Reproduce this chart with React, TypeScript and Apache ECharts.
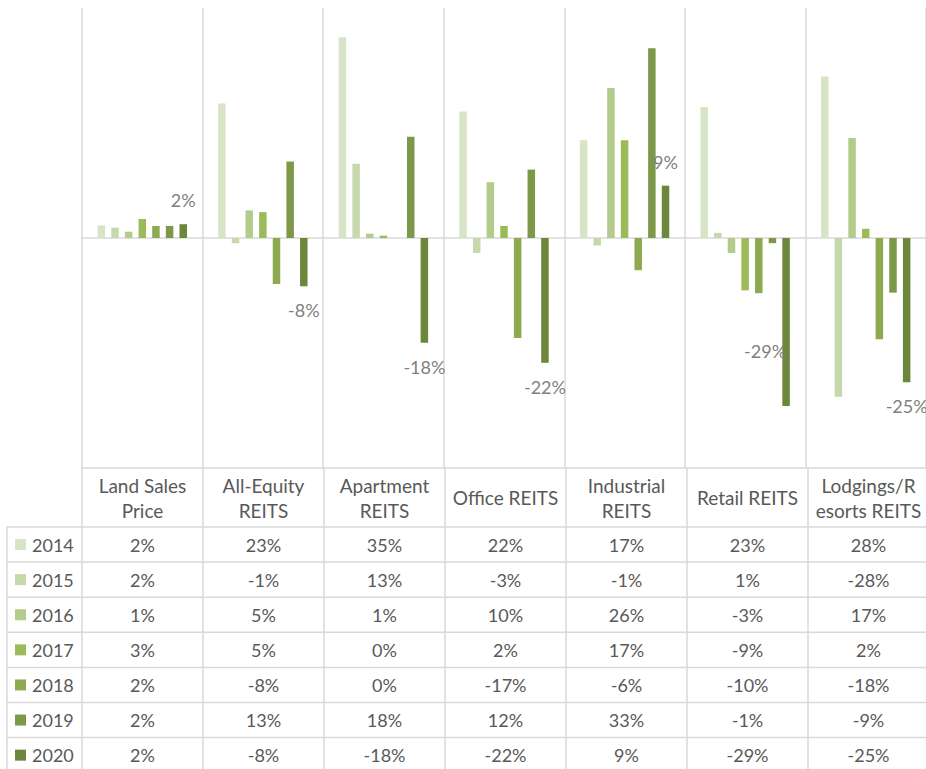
import React, { useEffect, useRef } from "react";
import * as echarts from "echarts";

const categories = [
  "Land Sales\nPrice",
  "All-Equity\nREITS",
  "Apartment\nREITS",
  "Office REITS",
  "Industrial\nREITS",
  "Retail REITS",
  "Lodgings/R\nesorts REITS",
];
const years = ["2014", "2015", "2016", "2017", "2018", "2019", "2020"];
const v2014 = [2.2, 23.4, 34.9, 22.0, 17.0, 22.8, 28.1];
const v2015 = [1.8, -0.9, 12.9, -2.6, -1.3, 0.9, -27.6];
const v2016 = [1.1, 4.8, 0.75, 9.7, 26.1, -2.6, 17.4];
const v2017 = [3.3, 4.5, 0.4, 2.1, 17.0, -9.1, 1.6];
const v2018 = [2.1, -8.0, 0, -17.4, -5.6, -9.6, -17.6];
const v2019 = [2.1, 13.3, 17.6, 11.9, 33.0, -0.9, -9.5];
const v2020 = [2.4, -8.4, -18.2, -21.7, 9.1, -29.2, -25.1];
const seriesValues = [v2014, v2015, v2016, v2017, v2018, v2019, v2020];
const colors = ["#D7E4C5", "#C6D9AC", "#B3CB8B", "#9BBB59", "#8DAA50", "#7E9849", "#6C863C"];

const FONT = "Lato, 'Open Sans', sans-serif";
const GRID_LEFT = 82;
const GRID_TOP = 8;
const GRID_H = 460;
const COL_W = 121;
const GRID_W = COL_W * categories.length;
const TABLE_LEFT = 7;
const HEADER_BOTTOM = 527;
const ROW_H = 35.1;
const LINE_COLOR = "#D9D9D9";
const TEXT_COLOR = "#595959";

const pct = (v: number) => `${Math.round(v)}%`;

export default function App() {
  const ref = useRef<HTMLDivElement>(null);
  useEffect(() => {
    if (!ref.current) return;
    const chart = echarts.init(ref.current, null, { renderer: "svg" });
    const right = GRID_LEFT + GRID_W;
    const bottom = 769;
    const elements: any[] = [];
    const line = (x1: number, y1: number, x2: number, y2: number) =>
      elements.push({
        type: "line",
        shape: { x1, y1, x2, y2 },
        style: { stroke: LINE_COLOR, lineWidth: 1.5 },
        silent: true,
      });
    line(GRID_LEFT, GRID_TOP + GRID_H, right, GRID_TOP + GRID_H);
    for (let k = 0; k <= years.length; k++) {
      const y = HEADER_BOTTOM + ROW_H * k;
      line(TABLE_LEFT, y, right, y);
    }
    line(TABLE_LEFT, HEADER_BOTTOM, TABLE_LEFT, bottom);
    for (let j = 0; j <= categories.length; j++) {
      const x = GRID_LEFT + COL_W * j;
      line(x, GRID_TOP + GRID_H, x, bottom);
    }
    categories.forEach((c, i) => {
      elements.push({
        type: "text",
        x: GRID_LEFT + COL_W * (i + 0.5),
        y: (GRID_TOP + GRID_H + HEADER_BOTTOM) / 2,
        style: {
          text: c,
          fill: TEXT_COLOR,
          fontSize: 19,
          fontFamily: FONT,
          lineHeight: 25,
          align: "center",
          verticalAlign: "middle",
          textAlign: "center",
          textVerticalAlign: "middle",
        },
        silent: true,
      });
    });
    years.forEach((yr, r) => {
      const cy = HEADER_BOTTOM + ROW_H * (r + 0.5);
      elements.push({
        type: "rect",
        shape: { x: 15, y: cy - 5.5, width: 11, height: 11 },
        style: { fill: colors[r] },
        silent: true,
      });
      elements.push({
        type: "text",
        x: 32,
        y: cy,
        style: {
          text: yr,
          fill: TEXT_COLOR,
          fontSize: 18,
          fontFamily: FONT,
          align: "left",
          verticalAlign: "middle",
          textAlign: "left",
          textVerticalAlign: "middle",
        },
        silent: true,
      });
      seriesValues[r].forEach((v, i) => {
        elements.push({
          type: "text",
          x: GRID_LEFT + COL_W * (i + 0.5),
          y: cy,
          style: {
            text: pct(v),
            fill: TEXT_COLOR,
            fontSize: 18,
            fontFamily: FONT,
            align: "center",
            verticalAlign: "middle",
            textAlign: "center",
            textVerticalAlign: "middle",
          },
          silent: true,
        });
      });
    });

    const series = years.map((yr, r) => ({
      name: yr,
      type: "bar",
      barWidth: 7.5,
      barGap: "82%",
      itemStyle: { color: colors[r] },
      data:
        r === years.length - 1
          ? seriesValues[r].map((v, i) =>
              i === 5
                ? { value: v, label: { position: "inside", offset: [-21, 29] } }
                : v
            )
          : seriesValues[r],
      label:
        r === years.length - 1
          ? {
              show: true,
              position: "outside",
              distance: 15,
              formatter: (p: any) => pct(p.value),
              color: "#7F7F7F",
              fontSize: 18,
              fontFamily: FONT,
            }
          : { show: false },
    }));

    chart.setOption({
      animation: false,
      grid: { left: GRID_LEFT, top: GRID_TOP, width: GRID_W, height: GRID_H, containLabel: false },
      xAxis: {
        type: "category",
        data: categories,
        axisLine: { show: true, onZero: true, lineStyle: { color: LINE_COLOR, width: 1.5 } },
        axisTick: { show: false },
        axisLabel: { show: false },
        splitLine: { show: true, interval: 0, lineStyle: { color: LINE_COLOR, width: 1.5 } },
      },
      yAxis: {
        type: "value",
        min: -40,
        max: 40,
        show: false,
        splitLine: { show: false },
      },
      series,
      graphic: { elements },
    });
    return () => chart.dispose();
  }, []);
  return (
    <div
      ref={ref}
      style={{ position: "fixed", left: 0, top: 0, width: 926, height: 769, background: "#fff" }}
    />
  );
}
